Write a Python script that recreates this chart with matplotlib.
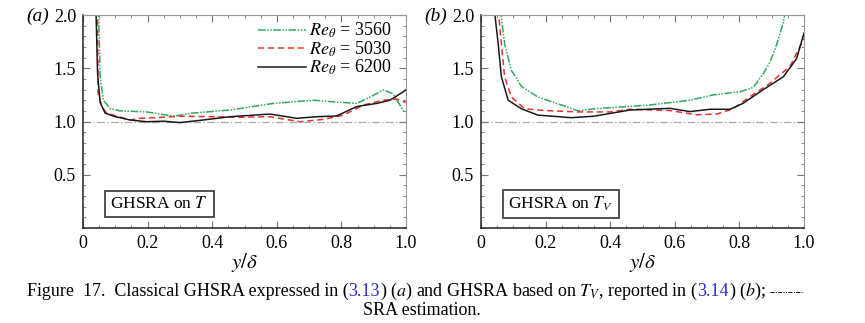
import matplotlib
matplotlib.use("Agg")
import matplotlib.pyplot as plt
from matplotlib.lines import Line2D
from matplotlib.ticker import MultipleLocator, FixedLocator
import numpy as np

plt.rcParams['font.family'] = ['Liberation Serif', 'DejaVu Serif']
plt.rcParams['mathtext.fontset'] = 'stix'

# panel (a): GHSRA on T
xa_3560 = [0.048, 0.053, 0.063, 0.084, 0.115, 0.197, 0.28, 0.321, 0.331, 0.455, 0.589, 0.713,
           0.796, 0.847, 0.889, 0.93, 0.96, 0.992, 1.0]
ya_3560 = [2.05, 1.42, 1.20, 1.12, 1.10, 1.09, 1.05, 1.07, 1.077, 1.108, 1.17, 1.20,
           1.18, 1.17, 1.23, 1.296, 1.26, 1.10, 1.09]
xa_5030 = [0.044, 0.047, 0.058, 0.073, 0.104, 0.146, 0.176, 0.248, 0.30, 0.40, 0.486, 0.579,
           0.672, 0.744, 0.806, 0.868, 0.93, 0.971, 1.0]
ya_5030 = [2.05, 1.26, 1.14, 1.08, 1.05, 1.014, 1.03, 1.04, 1.05, 1.045, 1.04, 1.045,
           0.998, 1.02, 1.06, 1.155, 1.20, 1.21, 1.18]
xa_6200 = [0.040, 0.045, 0.053, 0.068, 0.094, 0.146, 0.197, 0.25, 0.30, 0.36, 0.455, 0.579,
           0.662, 0.723, 0.785, 0.847, 0.909, 0.95, 0.992, 1.0]
ya_6200 = [2.05, 1.45, 1.18, 1.08, 1.05, 1.014, 0.998, 1.003, 0.99, 1.01, 1.045, 1.07,
           1.03, 1.045, 1.052, 1.14, 1.17, 1.20, 1.28, 1.30]

# panel (b): GHSRA on T_V
xb_3560 = [0.060, 0.063, 0.073, 0.094, 0.125, 0.176, 0.249, 0.30, 0.352, 0.523, 0.647, 0.719,
           0.802, 0.843, 0.874, 0.895, 0.915, 0.936, 0.943]
yb_3560 = [2.05, 1.98, 1.73, 1.48, 1.33, 1.23, 1.155, 1.10, 1.12, 1.155, 1.20, 1.25,
           1.28, 1.32, 1.45, 1.56, 1.72, 1.93, 2.05]
xb_5030 = [0.052, 0.055, 0.063, 0.073, 0.094, 0.135, 0.197, 0.30, 0.40, 0.461, 0.585, 0.668,
           0.73, 0.781, 0.833, 0.895, 0.957, 1.0]
yb_5030 = [2.05, 2.0, 1.73, 1.42, 1.23, 1.12, 1.103, 1.09, 1.09, 1.115, 1.103, 1.063,
           1.07, 1.12, 1.233, 1.36, 1.52, 1.78]
xb_6200 = [0.040, 0.043, 0.053, 0.063, 0.084, 0.125, 0.176, 0.28, 0.35, 0.461, 0.585, 0.647,
           0.709, 0.771, 0.811, 0.874, 0.936, 0.977, 1.0]
yb_6200 = [2.05, 2.0, 1.734, 1.42, 1.20, 1.12, 1.06, 1.036, 1.05, 1.108, 1.124, 1.093,
           1.115, 1.115, 1.17, 1.30, 1.42, 1.59, 1.83]

sra_x = [0.0, 1.0]
sra_y = [1.0, 1.0]

labels = [r"$Re_\theta$ = 3560", r"$Re_\theta$ = 5030", r"$Re_\theta$ = 6200"]
colors = ["#2eaa62", "#e8312f", "#1a1a1a"]
styles = [(0, (5, 1, 1, 1, 1, 1)), (0, (4, 2.5)), "-"]

fig = plt.figure(figsize=(8.65, 3.23), dpi=100)
ax_a = fig.add_axes([0.096, 0.2941, 0.3734, 0.6594])
ax_b = fig.add_axes([0.5561, 0.2941, 0.3734, 0.6594])

data = [
    (ax_a, [(xa_3560, ya_3560), (xa_5030, ya_5030), (xa_6200, ya_6200)], "GHSRA on $T$", "(a)"),
    (ax_b, [(xb_3560, yb_3560), (xb_5030, yb_5030), (xb_6200, yb_6200)], "GHSRA on $T_V$", "(b)"),
]

for ax, series, boxtxt, tag in data:
    ax.plot(sra_x, sra_y, color="#aaaaaa", lw=0.9, ls=(0, (6, 2, 1, 2)), zorder=1)
    for (x, y), c, s, lab in zip(series, colors, styles, labels):
        ax.plot(x, y, color=c, ls=s, lw=1.1, label=lab, zorder=2)
    ax.set_xlim(0, 1.0)
    ax.set_ylim(0, 2.0)
    ax.xaxis.set_major_locator(MultipleLocator(0.2))
    ax.xaxis.set_minor_locator(MultipleLocator(0.05))
    ax.yaxis.set_major_locator(FixedLocator([0.5, 1.0, 1.5, 2.0]))
    ax.yaxis.set_minor_locator(MultipleLocator(0.1))
    ax.set_xticks([0, 0.2, 0.4, 0.6, 0.8, 1.0])
    ax.set_xticklabels(["0", "0.2", "0.4", "0.6", "0.8", "1.0"])
    ax.tick_params(which="both", direction="in", top=True, right=True, colors="#777777",
                   labelcolor="black", labelsize=13, pad=5)
    ax.tick_params(which="major", length=5, width=0.8)
    ax.tick_params(which="minor", length=2.5, width=0.6)
    for side in ["top", "right"]:
        ax.spines[side].set_color("#999999")
        ax.spines[side].set_linewidth(0.8)
    for side in ["left", "bottom"]:
        ax.spines[side].set_color("#222222")
        ax.spines[side].set_linewidth(1.1)
    ax.set_xlabel(r"$y/\delta$", fontsize=15, labelpad=-1)
    ax.text(0.085, 0.113, boxtxt, transform=ax.transAxes, fontsize=12.5, va="center", ha="left",
            bbox=dict(boxstyle="square,pad=0.3", fc="white", ec="#333333", lw=1.2))
    pos = ax.get_position()
    fig.text(pos.x0 - 0.066, 0.948, tag, fontsize=14, va="center", ha="left",
             fontstyle="italic")

ax_a.legend(loc="upper right", bbox_to_anchor=(1.0, 1.04), frameon=False, fontsize=13,
            handlelength=2.7, handletextpad=0.15, labelspacing=-0.05, borderpad=0.3)

# caption
blue = "#2b2bd6"
fig.canvas.draw()
r = fig.canvas.get_renderer()
W = fig.bbox.width


def piece_width(s, size):
    t1 = fig.text(0, 0, s + "|", fontsize=size)
    t2 = fig.text(0, 0, "|", fontsize=size)
    w = t1.get_window_extent(r).width - t2.get_window_extent(r).width
    t1.remove()
    t2.remove()
    return w / W


cap_size = 13
pieces = [
    ("Figure  17.  Classical GHSRA expressed in (", "black"),
    ("3.13", blue),
    (r") ($\it{a}$) and GHSRA based on $T_V$, reported in (", "black"),
    ("3.14", blue),
    (r") ($\it{b}$); ", "black"),
]
x = 0.031
y1 = 0.099
for s, c in pieces:
    fig.text(x, y1, s, fontsize=cap_size, color=c, va="center", ha="left")
    x += piece_width(s, cap_size)
fig.add_artist(Line2D([x, x + 0.038], [y1 - 0.004, y1 - 0.004], transform=fig.transFigure,
                      color="black", lw=0.7, ls=(0, (4, 1.5, 1, 1.5, 4, 1.5, 1, 1.5, 1, 1.5))))
fig.text(0.488, 0.040, "SRA estimation.", fontsize=cap_size, va="center", ha="center")

fig.savefig("out.png", dpi=100)
